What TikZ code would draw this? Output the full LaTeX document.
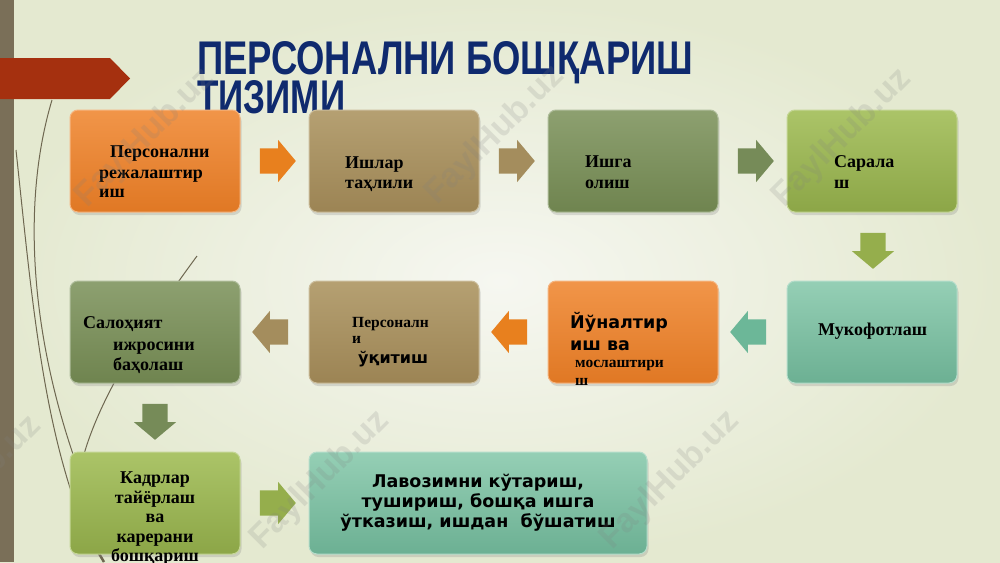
\documentclass[tikz,border=0pt]{standalone}
\usepackage{fontspec}
\setmainfont{Liberation Serif}
\newfontfamily\titlefont{Liberation Sans}
\newfontfamily\dvs{DejaVu Sans}
\usetikzlibrary{shapes.arrows,shadows,calc}
\definecolor{bgin}{HTML}{F6F7F1}
\definecolor{bgout}{HTML}{E4E9D0}
\definecolor{barc}{HTML}{7A6F58}
\definecolor{redc}{HTML}{A5300F}
\definecolor{titc}{HTML}{0F2A6E}
\definecolor{curvec}{HTML}{6E6750}
\definecolor{orT}{HTML}{F19549}
\definecolor{orB}{HTML}{E07824}
\definecolor{orA}{HTML}{E8801E}
\definecolor{tnT}{HTML}{B5A072}
\definecolor{tnB}{HTML}{9C8454}
\definecolor{tnA}{HTML}{A48D5D}
\definecolor{olT}{HTML}{8DA070}
\definecolor{olB}{HTML}{6F844F}
\definecolor{olA}{HTML}{768B58}
\definecolor{ygT}{HTML}{ABC468}
\definecolor{ygB}{HTML}{8CA647}
\definecolor{ygA}{HTML}{95AE4C}
\definecolor{tlT}{HTML}{95CFB5}
\definecolor{tlB}{HTML}{6CB093}
\definecolor{tlA}{HTML}{6CB798}
\tikzset{
  boxc/.style 2 args={rectangle, rounded corners=8pt, minimum width=170pt,
    minimum height=102pt, inner sep=0pt, top color=#1, bottom color=#2,
    draw=#1!70!white, line width=1pt,
    drop shadow={shadow xshift=1.5pt, shadow yshift=-3pt, opacity=0.25}},
  arr/.style={single arrow, draw=none, fill=#1, minimum height=36pt,
    single arrow head extend=8.5pt, inner xsep=0pt, inner ysep=12.5pt,
    single arrow tip angle=100},
  txt/.style={inner sep=0pt, anchor=base west, text=black,
    font=\fontsize{18}{20}\selectfont\bfseries},
  txts/.style={txt, font=\fontsize{15.5}{18}\selectfont\bfseries},
  stxt/.style={inner sep=0pt, anchor=base west, text=black,
    font=\dvs\fontsize{17.5}{20}\selectfont\bfseries},
  curve/.style={draw=curvec, line width=1pt},
  wm/.style={font=\titlefont\fontsize{34}{34}\selectfont\bfseries,
    text=gray, opacity=0.18, rotate=45, inner sep=0pt}
}
\begin{document}
\begin{tikzpicture}[x=1pt,y=-1pt]
\useasboundingbox (0,0) rectangle (1000,562);
% background
\shade[inner color=bgin, outer color=bgout] (0,0) rectangle (1000,562);
\fill[barc] (0,0) rectangle (14,562);
% decorative curves
\draw[curve] (52,100) .. controls (22,200) and (30,330) .. (75,460);
\draw[curve] (16,150) .. controls (30,280) and (40,400) .. (74,500);
\draw[curve] (197,256) .. controls (150,320) and (95,400) .. (80,470);
\draw[draw=curvec, line width=2.5pt] (85,530) -- (104,562);
% title
\node[anchor=base west, inner sep=0pt, text=titc] (title1) at (197,74)
  {\resizebox{496pt}{33pt}{\titlefont\bfseries ПЕРСОНАЛНИ БОШҚАРИШ}};
\node[anchor=base west, inner sep=0pt, text=titc] (title2) at (197,113)
  {\resizebox{148pt}{33pt}{\titlefont\bfseries ТИЗИМИ}};
% red tab
\fill[redc] (0,58) -- (110,58) -- (130,78.5) -- (110,99) -- (0,99) -- cycle;
% boxes
\node[boxc={orT}{orB}] (b1) at (155,161) {};
\node[boxc={tnT}{tnB}] (b2) at (394,161) {};
\node[boxc={olT}{olB}] (b3) at (633,161) {};
\node[boxc={ygT}{ygB}] (b4) at (872,161) {};
\node[boxc={olT}{olB}] (b5) at (155,332) {};
\node[boxc={tnT}{tnB}] (b6) at (394,332) {};
\node[boxc={orT}{orB}] (b7) at (633,332) {};
\node[boxc={tlT}{tlB}] (b8) at (872,332) {};
\node[boxc={ygT}{ygB}] (b9) at (155,503) {};
\node[boxc={tlT}{tlB}, minimum width=338pt] (b10) at (478,503) {};
% block arrows
\node[arr=orA] (a12) at ($(b1.east)!0.5!(b2.west)+(-2,0)$) {};
\node[arr=tnA] (a23) at ($(b2.east)!0.5!(b3.west)+(-2,0)$) {};
\node[arr=olA] (a34) at ($(b3.east)!0.5!(b4.west)+(-2,0)$) {};
\node[arr=ygA, rotate=-90] (a48) at ($(b4.south)!0.5!(b8.north)+(1,-1)$) {};
\node[arr=tlA, rotate=180] (a87) at ($(b8.west)!0.5!(b7.east)+(1,0)$) {};
\node[arr=orA, rotate=180] (a76) at ($(b7.west)!0.5!(b6.east)+(1,0)$) {};
\node[arr=tnA, rotate=180] (a65) at ($(b6.west)!0.5!(b5.east)+(1,0)$) {};
\node[arr=olA, rotate=-90] (a59) at ($(b5.south)!0.5!(b9.north)+(0,-1)$) {};
\node[arr=ygA] (a910) at ($(b9.east)!0.5!(b10.west)+(-2,0)$) {};
% texts
\node[txt] (t1a) at (110,157) {Персонални};
\node[txt] (t1b) at (99,178) {режалаштир};
\node[txt] (t1c) at (99,197) {иш};
\node[txt] (t2a) at (345,168) {Ишлар};
\node[txt] (t2b) at (345,188) {таҳлили};
\node[txt] (t3a) at (585,167) {Ишга};
\node[txt] (t3b) at (585,188) {олиш};
\node[txt] (t4a) at (834,167) {Сарала};
\node[txt] (t4b) at (834,188) {ш};
\node[txt] (t5a) at (83,328) {Салоҳият};
\node[txt] (t5b) at (113,350) {ижросини};
\node[txt] (t5c) at (113,370) {баҳолаш};
\node[txts] (t6a) at (352,327) {Персоналн};
\node[txts] (t6b) at (352,343) {и};
\node[stxt, font=\dvs\fontsize{16}{18}\selectfont\bfseries] (t6c) at (358,363) {ўқитиш};
\node[stxt] (t7a) at (570,328) {Йўналтир};
\node[stxt] (t7b) at (570,350) {иш ва};
\node[txts] (t7c) at (575,367) {мослаштири};
\node[txts] (t7d) at (575,385) {ш};
\node[txt] (t8a) at (818,335) {Мукофотлаш};
\node[txt, anchor=base] (t9a) at (155,483) {Кадрлар};
\node[txt, anchor=base] (t9b) at (155,503) {тайёрлаш};
\node[txt, anchor=base] (t9c) at (155,522) {ва};
\node[txt, anchor=base] (t9d) at (155,542) {карерани};
\node[txt, anchor=base] (t9e) at (155,561) {бошқариш};
\node[stxt, anchor=base] (t10a) at (478,487) {Лавозимни кўтариш,};
\node[stxt, anchor=base] (t10b) at (478,507) {тушириш, бошқа ишга};
\node[stxt, anchor=base] (t10c) at (478,527) {ўтказиш, ишдан\ \ бўшатиш};
% watermarks
\node[wm] (wm1) at (145,138) {FaylHub.uz};
\node[wm] (wm2) at (495,135) {FaylHub.uz};
\node[wm] (wm3) at (842,138) {FaylHub.uz};
\node[wm] (wm4) at (-28,485) {FaylHub.uz};
\node[wm] (wm5) at (320,480) {FaylHub.uz};
\node[wm] (wm6) at (670,480) {FaylHub.uz};
\end{tikzpicture}
\end{document}
